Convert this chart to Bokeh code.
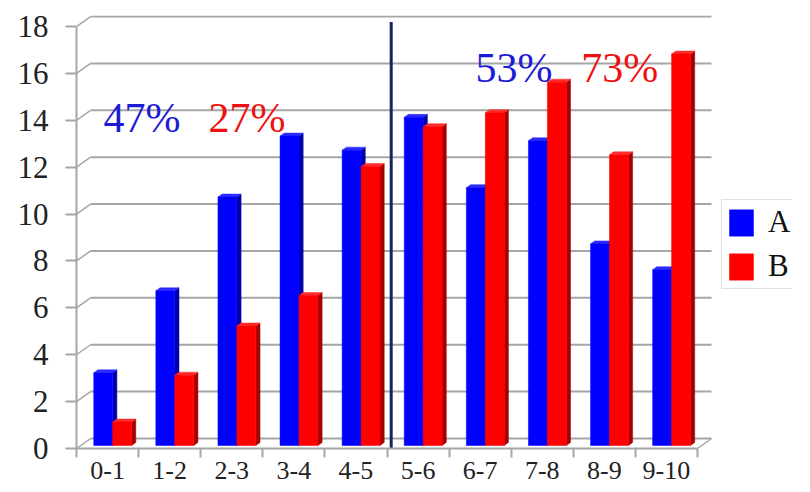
from bokeh.plotting import figure
from bokeh.models import ColumnDataSource, FixedTicker, Range1d, Legend, LegendItem, Label
from bokeh.embed import file_html
from bokeh.resources import INLINE

# ---- data ----
categories = ["0-1", "1-2", "2-3", "3-4", "4-5", "5-6", "6-7", "7-8", "8-9", "9-10"]
series_a = [3.1, 6.6, 10.6, 13.2, 12.6, 14.0, 11.0, 13.0, 8.6, 7.5]
series_b = [1.0, 3.0, 5.1, 6.4, 11.9, 13.6, 14.2, 15.5, 12.4, 16.7]
series_names = ["A", "B"]
share_left = ["47%", "27%"]
share_right = ["53%", "73%"]
y_ticks = [0, 2, 4, 6, 8, 10, 12, 14, 16, 18]

# ---- layout constants ----
FONT = "Liberation Serif"
W, H = 794, 484
LEFT, RIGHT, TOP, BOTTOM = 76, 2, 15, 36
PX_X = 62.1
PX_Y = 23.44
n = len(categories)
x_end = (W - LEFT - RIGHT) / PX_X
y_end = (H - TOP - BOTTOM) / PX_Y
y_max = y_ticks[-1]

DXB = 14 / PX_X   # back wall depth offset (x, data units)
DYB = 10 / PX_Y   # back wall depth offset (y, data units)
F = 0.3           # bar plane depth fraction
BD = 0.3          # bar depth fraction
BAR_W = 0.305
BAR_START = 0.21
GRID_COL = "#a6a6a6"

colors_front = ["#0000ff", "#ff0000"]
colors_top = ["#2b2bff", "#ff2b2b"]
colors_side = ["#0000a6", "#a60000"]
text_cols = ["#1c1cd6", "#ee1111"]

p = figure(width=W, height=H, output_backend="svg", toolbar_location=None,
           x_range=Range1d(0, x_end), y_range=Range1d(0, y_end),
           min_border_left=LEFT, min_border_right=RIGHT,
           min_border_top=TOP, min_border_bottom=BOTTOM)
p.xgrid.visible = False
p.ygrid.visible = False
p.outline_line_color = None
p.background_fill_color = "white"

# back-wall gridlines and depth diagonals
p.segment(x0=[DXB] * len(y_ticks), y0=[t + DYB for t in y_ticks],
          x1=[n + DXB] * len(y_ticks), y1=[t + DYB for t in y_ticks],
          line_color=GRID_COL, line_width=2)
p.segment(x0=[0] * len(y_ticks), y0=y_ticks,
          x1=[DXB] * len(y_ticks), y1=[t + DYB for t in y_ticks],
          line_color=GRID_COL, line_width=1.5)
p.segment(x0=[n], y0=[0], x1=[n + DXB], y1=[DYB], line_color=GRID_COL, line_width=1.5)

# bars with pseudo-3D faces
bdx, bdy = BD * DXB, BD * DYB
sx, sy = F * DXB, F * DYB
front_renderers = []
for s, vals in enumerate([series_a, series_b]):
    left = [i + BAR_START + s * BAR_W + sx for i in range(n)]
    right = [l + BAR_W for l in left]
    bottom = [sy] * n
    top = [v + sy for v in vals]
    side_xs = [[r, r + bdx, r + bdx, r] for r in right]
    side_ys = [[b, b + bdy, t + bdy, t] for b, t in zip(bottom, top)]
    top_xs = [[l, l + bdx, r + bdx, r] for l, r in zip(left, right)]
    top_ys = [[t, t + bdy, t + bdy, t] for t in top]
    p.patches(xs=side_xs, ys=side_ys, fill_color=colors_side[s], line_color=colors_side[s], line_width=0.5)
    p.patches(xs=top_xs, ys=top_ys, fill_color=colors_top[s], line_color=colors_top[s], line_width=0.5)
    src = ColumnDataSource(dict(left=left, right=right, bottom=bottom, top=top))
    r = p.quad(left="left", right="right", bottom="bottom", top="top", source=src,
               fill_color=colors_front[s], line_color=colors_front[s], line_width=0.5)
    front_renderers.append(r)

# divider between halves
half = n / 2
p.segment(x0=[half + sx], y0=[0], x1=[half + sx], y1=[y_max + 0.2],
          line_color="#14245e", line_width=3)

# share labels
label_pos_left = [(0.435, 14.12), (2.125, 14.12)]
label_pos_right = [(6.425, 16.25), (8.13, 16.25)]
for texts, poss in [(share_left, label_pos_left), (share_right, label_pos_right)]:
    for s, (txt, (lx, ly)) in enumerate(zip(texts, poss)):
        p.add_layout(Label(x=lx, y=ly, text=txt, text_font=FONT, text_font_size="42px",
                           text_color=text_cols[s], text_baseline="alphabetic", text_align="left"))

# axes
p.xaxis.ticker = FixedTicker(ticks=[i + 0.5 for i in range(n)], minor_ticks=list(range(n + 1)))
p.xaxis.major_label_overrides = {i + 0.5: c for i, c in enumerate(categories)}
p.xaxis.bounds = (0, n)
p.xaxis.major_tick_line_color = None
p.xaxis.major_tick_out = 0
p.xaxis.major_tick_in = 0
p.xaxis.minor_tick_out = 9
p.xaxis.minor_tick_in = 0
p.xaxis.minor_tick_line_color = GRID_COL
p.xaxis.minor_tick_line_width = 2
p.xaxis.axis_line_color = GRID_COL
p.xaxis.axis_line_width = 2
p.xaxis.major_label_standoff = 4
p.xaxis.major_label_text_font = FONT
p.xaxis.major_label_text_font_size = "26px"
p.xaxis.major_label_text_color = "#222222"

p.yaxis.ticker = FixedTicker(ticks=y_ticks, minor_ticks=[])
p.yaxis.bounds = (0, y_max)
p.yaxis.major_tick_out = 11
p.yaxis.major_tick_in = 0
p.yaxis.major_tick_line_color = GRID_COL
p.yaxis.major_tick_line_width = 2
p.yaxis.axis_line_color = GRID_COL
p.yaxis.axis_line_width = 2
p.yaxis.major_label_standoff = 17
p.yaxis.major_label_text_font = FONT
p.yaxis.major_label_text_font_size = "31px"
p.yaxis.major_label_text_color = "#222222"

legend = Legend(items=[LegendItem(label=series_names[0], renderers=[front_renderers[0]]),
                       LegendItem(label=series_names[1], renderers=[front_renderers[1]])],
                location=(645, 159), glyph_width=30, glyph_height=33, label_height=33,
                spacing=8, padding=4, margin=0, label_standoff=12,
                label_text_font=FONT, label_text_font_size="31px", label_text_color="#111111",
                border_line_color="#c0c0c0", border_line_width=1, background_fill_alpha=0)
p.add_layout(legend)

open("out.html", "w").write(file_html(p, INLINE))
